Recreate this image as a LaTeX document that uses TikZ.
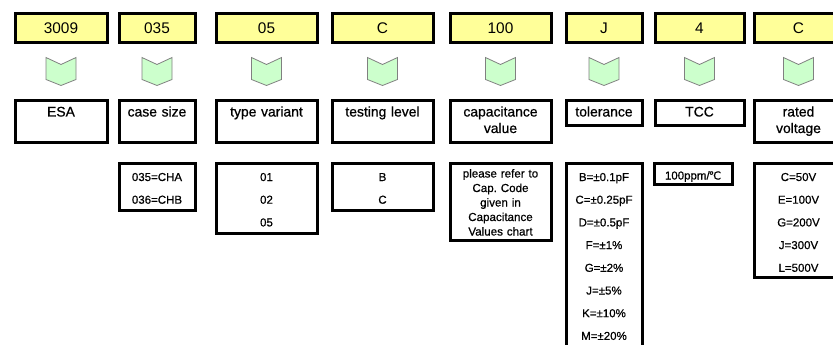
\documentclass[tikz,border=0pt]{standalone}
\usepackage{fontspec}
\setmainfont{Liberation Sans}
\newfontfamily\heavyfont{Liberation Sans}[FakeBold=0.7]
\newfontfamily\degfont{DejaVu Sans}[FakeBold=0.7]
\usetikzlibrary{calc}
\definecolor{codeyellow}{HTML}{FFFF99}
\definecolor{chevgreen}{HTML}{CCFFCC}
\tikzset{
	box/.style={draw, line width=3pt, inner sep=0pt, anchor=north west, align=center},
	codebox/.style={box, fill=codeyellow, minimum height=29pt, font=\fontsize{15.4}{18}\selectfont},
	namebox/.style={box, text height=16.5pt, font=\heavyfont\fontsize{13.9}{16.5}\selectfont},
	listbox/.style={box, text height=17.5pt, font=\heavyfont\fontsize{11.5}{22.7}\selectfont},
	chevron/.style={draw=black!50, line width=0.8pt, fill=chevgreen}
}

\begin{document}
\frenchspacing
\begin{tikzpicture}[x=1pt, y=-1pt]
		%%%%% START %%%%%
		\useasboundingbox (0,0) rectangle (833,345);
		\clip (0,0) rectangle (833,345);
		
		\node[codebox, minimum width=92pt] (code1) at (13.5,12.5) {3009};
		\node[codebox, minimum width=76pt] (code2) at (117.5,12.5) {035};
		\node[codebox, minimum width=101pt] (code3) at (214.5,12.5) {05};
		\node[codebox, minimum width=101pt] (code4) at (330.5,12.5) {C};
		\node[codebox, minimum width=101pt] (code5) at (448.5,12.5) {100};
		\node[codebox, minimum width=76pt] (code6) at (564.5,12.5) {J};
		\node[codebox, minimum width=89pt] (code7) at (653.5,12.5) {4};
		\node[codebox, minimum width=89pt] (code8) at (752.5,12.5) {C};
		
		\node[namebox, text width=92pt, text depth=25.5pt] (name1) at (13.5,98.5) {ESA};
		\node[namebox, text width=76pt, text depth=25.5pt] (name2) at (117.5,98.5) {case size};
		\node[namebox, text width=101pt, text depth=25.5pt] (name3) at (214.5,98.5) {type variant};
		\node[namebox, text width=101pt, text depth=25.5pt] (name4) at (330.5,98.5) {testing level};
		\node[namebox, text width=101pt, text depth=25.5pt] (name5) at (448.5,98.5) {capacitance\\value};
		\node[namebox, text width=76pt, text depth=8.5pt] (name6) at (564.5,98.5) {tolerance};
		\node[namebox, text width=89pt, text depth=8.5pt] (name7) at (653.5,98.5) {TCC};
		\node[namebox, text width=89pt, text depth=25.5pt] (name8) at (752.5,98.5) {rated\\voltage};
		
		\foreach \i in {1,...,8}
			\draw[chevron, shift={($(code\i.south)!0.5!(name\i.north)$)}]
				(-15,-14) -- (0,-7) -- (15,-14) -- (15,8) -- (0,14) -- (-15,8) -- cycle;
		
		\node[listbox, text width=76pt, text depth=29.5pt] (list2) at (117.5,162) {035=CHA\\036=CHB};
		\node[listbox, text width=101pt, text depth=52pt] (list3) at (214.5,162) {01\\02\\05};
		\node[listbox, text width=101pt, text depth=29.5pt] (list4) at (330.5,162) {B\\C};
		\node[listbox, text width=101pt, text height=14pt, text depth=63pt,
			font=\heavyfont\fontsize{11.6}{14.5}\selectfont] (list5) at (448.5,162)
			{please refer to\\Cap. Code\\given in\\Capacitance\\Values chart};
		\node[listbox, text width=76pt, text depth=200pt] (list6) at (564.5,162)
			{B=±0.1pF\\C=±0.25pF\\D=±0.5pF\\F=±1\%\\G=±2\%\\J=±5\%\\K=±10\%\\M=±20\%};
		\node[listbox, text width=78pt, text height=16pt, text depth=5pt] (list7) at (652.5,162)
			{100ppm/\kern-1pt{\degfont\fontsize{11}{12}\selectfont ℃}};
		\node[listbox, text width=89pt, text depth=96.5pt] (list8) at (752.5,162)
			{C=50V\\E=100V\\G=200V\\J=300V\\L=500V};
		
		%%%%% END %%%%%
\end{tikzpicture}
\end{document}
